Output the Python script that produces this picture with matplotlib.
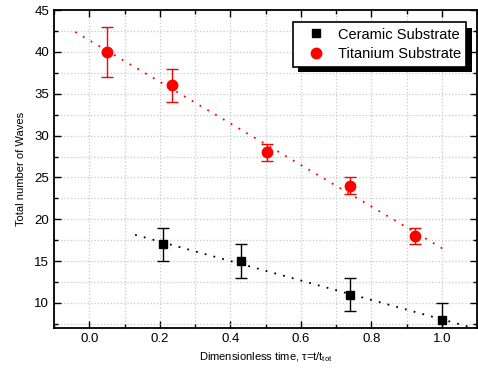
import numpy as np
import matplotlib
matplotlib.use("Agg")
import matplotlib.pyplot as plt
from matplotlib.ticker import MultipleLocator
import matplotlib.patheffects as pe

plt.rcParams['font.family'] = ['Liberation Sans', 'DejaVu Sans']
plt.rcParams['mathtext.fontset'] = 'custom'
plt.rcParams['mathtext.rm'] = 'Liberation Sans'
plt.rcParams['mathtext.it'] = 'Liberation Sans'

# Data
ceramic_x = [0.21, 0.43, 0.74, 1.0]
ceramic_y = [17, 15, 11, 8]
ceramic_err = [2, 2, 2, 2]

titanium_x = [0.05, 0.235, 0.505, 0.74, 0.925]
titanium_y = [40, 36, 28, 24, 18]
titanium_err = [3, 2, 1, 1, 1]

xticks = [0.0, 0.2, 0.4, 0.6, 0.8, 1.0]
yticks = [10, 15, 20, 25, 30, 35, 40, 45]

fig = plt.figure(figsize=(4.78, 3.72), dpi=100)
ax = fig.add_axes([0.113, 0.118, 0.885, 0.855])

# fit lines
cf = np.polyfit(ceramic_x, ceramic_y, 1)
tf = np.polyfit(titanium_x, titanium_y, 1)
xc = np.linspace(0.13, 1.1, 50)
xt = np.linspace(-0.04, 1.01, 50)
ax.plot(xc, np.polyval(cf, xc), color='black', linestyle=(0, (1, 4)), lw=1.3, zorder=2)
ax.plot(xt, np.polyval(tf, xt), color='red', linestyle=(0, (1, 4)), lw=1.3, zorder=2)

ax.errorbar(ceramic_x, ceramic_y, yerr=ceramic_err, fmt='s', color='black',
            ms=6, capsize=4, elinewidth=1, capthick=1, label='Ceramic Substrate', zorder=3)
ax.errorbar(titanium_x, titanium_y, yerr=titanium_err, fmt='o', color='red',
            ms=7.5, capsize=4, elinewidth=1, capthick=1, label='Titanium Substrate', zorder=3)

ax.set_xlim(-0.1, 1.1)
ax.set_ylim(7, 45)
ax.set_xticks(xticks)
ax.set_yticks(yticks)
ax.xaxis.set_minor_locator(MultipleLocator(0.1))
ax.yaxis.set_minor_locator(MultipleLocator(2.5))
ax.tick_params(which='both', direction='in', top=True, right=True, labelsize=9.5, width=1)
ax.tick_params(which='major', length=5)
ax.tick_params(which='minor', length=3)
ax.grid(True, which='both', linestyle=':', color='#c8c8c8', lw=0.9)
ax.set_axisbelow(True)
for s in ax.spines.values():
    s.set_linewidth(1.3)

ax.set_xlabel('Dimensionless time, \u03c4=t/t$\\mathregular{_{tot}}$', fontsize=8)
ax.set_ylabel('Total number of Waves', fontsize=8, labelpad=6)

handles, labels = ax.get_legend_handles_labels()
handles = [h[0] for h in handles]
leg = ax.legend(handles, labels, loc='upper right', bbox_to_anchor=(0.974, 0.962),
                fancybox=False, framealpha=1, edgecolor='black', fontsize=10.5,
                handlelength=2.4, handletextpad=0.3, borderpad=0.37, labelspacing=0.4,
                borderaxespad=0)
leg.get_frame().set_linewidth(1.2)
leg.legendPatch.set_path_effects([
    pe.SimplePatchShadow(offset=(4, -4), shadow_rgbFace='black', alpha=1),
    pe.Normal()])

fig.savefig('out.png', dpi=100)
